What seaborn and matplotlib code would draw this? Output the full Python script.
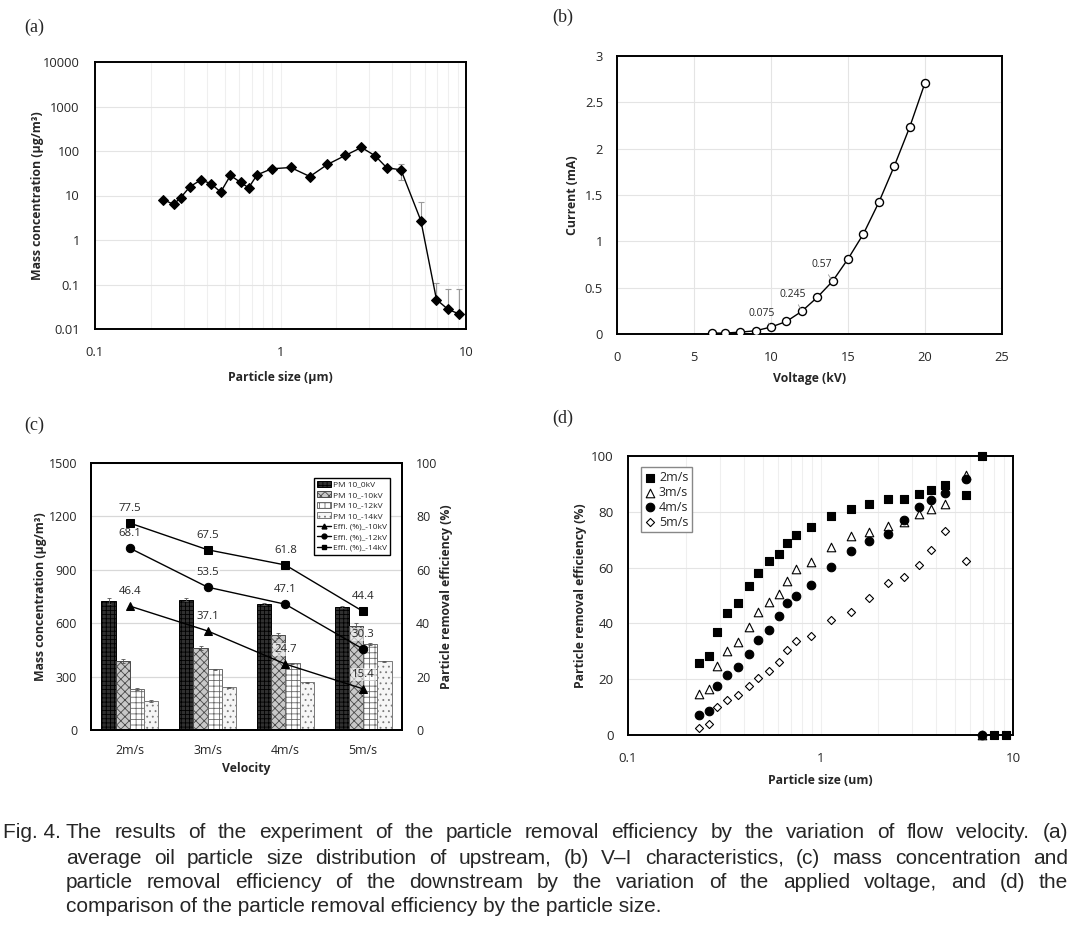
import numpy as np
import pandas as pd
import matplotlib.pyplot as plt
import matplotlib.ticker as mticker
import seaborn as sns

# ---- data (a) : upstream size distribution
sizes = [0.234, 0.265, 0.29, 0.325, 0.373, 0.423, 0.476, 0.537, 0.611, 0.673, 0.748, 0.895,
         1.135, 1.44, 1.79, 2.235, 2.73, 3.24, 3.74, 4.46, 5.71, 6.93, 8.0, 9.2]
mass_conc = [8.1, 6.3, 9.0, 15.8, 22.5, 18.3, 11.9, 28.2, 19.6, 14.9, 29.1, 39.8,
             42.6, 26.7, 49.8, 79.4, 120, 78, 41.9, 37.8, 2.73, 0.046, 0.0276, 0.0217]
err_lo = [0]*19 + [15.4, 0, 0, 0, 0]
err_hi = [0]*19 + [14.2, 4.4, 0.064, 0.05, 0.056]

# ---- data (b) : V-I characteristics
voltage = [6.2, 7, 8, 9, 10, 11, 12, 13, 14, 15, 16, 17, 18, 19, 20]
current = [0.01, 0.01, 0.02, 0.035, 0.075, 0.135, 0.245, 0.395, 0.57, 0.81, 1.08, 1.42, 1.81, 2.23, 2.71]
vi_labels = {10: '0.075', 12: '0.245', 14: '0.57'}

# ---- data (c) : downstream concentration / efficiency
velocities = ['2m/s', '3m/s', '4m/s', '5m/s']
pm_0kv = [724, 733, 707, 692]
pm_10kv = [389, 462, 531, 585]
pm_12kv = [230, 340, 374, 483]
pm_14kv = [163, 239, 267, 385]
pm_err = [[15, 8, 5, 5], [12, 10, 12, 18], [6, 5, 5, 5], [4, 4, 3, 4]]
bar_names = ['PM 10_0kV', 'PM 10_-10kV', 'PM 10_-12kV', 'PM 10_-14kV']
eff_10kv = [46.4, 37.1, 24.7, 15.4]
eff_12kv = [68.1, 53.5, 47.1, 30.3]
eff_14kv = [77.5, 67.5, 61.8, 44.4]
eff_names = ['Effi. (%)_-10kV', 'Effi. (%)_-12kV', 'Effi. (%)_-14kV']

# ---- data (d) : efficiency by particle size
eff_2ms = [25.8, 28.2, 37.0, 43.6, 47.4, 53.5, 58.1, 62.2, 64.8, 68.9, 71.7, 74.6,
           78.5, 81.0, 82.8, 84.6, 84.6, 86.5, 87.7, 89.5, 86.1, 100, 0, 0]
eff_3ms = [14.7, 16.6, 24.7, 30.2, 33.2, 38.7, 44.0, 47.7, 50.7, 55.2, 59.4, 62.1,
           67.3, 71.3, 72.6, 74.9, 76.5, 79.3, 81.1, 82.9, 93.2, 0, np.nan, np.nan]
eff_4ms = [7.2, 8.7, 17.6, 21.5, 24.3, 29.2, 34.1, 37.5, 42.7, 47.2, 49.7, 53.9,
           60.2, 66.0, 69.5, 72.0, 76.9, 81.6, 84.2, 86.6, 91.9, 0, np.nan, np.nan]
eff_5ms = [2.6, 3.9, 9.9, 12.7, 14.2, 17.7, 20.5, 22.8, 26.0, 30.3, 33.8, 35.6,
           41.2, 44.1, 49.1, 54.6, 56.6, 60.9, 66.4, 73.1, 62.5, np.nan, np.nan, np.nan]

caption = [
    "The results of the experiment of the particle removal efficiency by the variation of flow velocity. (a)",
    "average oil particle size distribution of upstream, (b) V\u2013I characteristics, (c) mass concentration and",
    "particle removal efficiency of the downstream by the variation of the applied voltage, and (d) the",
    "comparison of the particle removal efficiency by the particle size.",
]

sns.set_style('white')
plt.rcParams['font.family'] = ['Open Sans', 'DejaVu Sans']
plt.rcParams['hatch.linewidth'] = 0.6

W, H = 1076, 934
fig = plt.figure(figsize=(W / 100, H / 100), dpi=100)

TICK = 9.3
LAB = 8.8
GRID = '#e4e4e4'


def px_axes(l, t, r, b):
    return fig.add_axes([l / W, 1 - b / H, (r - l) / W, (b - t) / H])


def frame(ax):
    for s in ax.spines.values():
        s.set_visible(True)
        s.set_color('black')
        s.set_linewidth(1.4)


log_fmt = mticker.FuncFormatter(lambda v, _: f'{v:g}')

# ---------------- (a)
ax_a = px_axes(95, 62, 466, 329)
mask = (np.array(err_lo) + np.array(err_hi)) > 0
ax_a.errorbar(np.array(sizes)[mask], np.array(mass_conc)[mask],
              yerr=[np.array(err_lo)[mask], np.array(err_hi)[mask]],
              fmt='none', ecolor='#9a9a9a', elinewidth=0.8, capsize=2, capthick=0.8, zorder=2)
sns.lineplot(x=sizes, y=mass_conc, ax=ax_a, color='black', lw=1, marker='D',
             markersize=5, markeredgecolor='black', zorder=3)
ax_a.set_xscale('log')
ax_a.set_yscale('log')
ax_a.set_xlim(0.1, 10)
ax_a.set_ylim(0.01, 10000)
ax_a.xaxis.set_major_formatter(log_fmt)
ax_a.yaxis.set_major_formatter(log_fmt)
ax_a.yaxis.set_major_locator(mticker.LogLocator(base=10, numticks=10))
ax_a.yaxis.set_minor_locator(mticker.LogLocator(base=10, subs=np.arange(2, 10), numticks=10))
ax_a.xaxis.set_minor_formatter(mticker.NullFormatter())
ax_a.yaxis.set_minor_formatter(mticker.NullFormatter())
ax_a.grid(which='major', axis='y', color=GRID, lw=0.8)
ax_a.grid(which='both', axis='x', color='#efefef', lw=0.8)
ax_a.tick_params(which='both', direction='in', labelsize=TICK, color='#777')
ax_a.tick_params(which='major', length=4)
ax_a.tick_params(which='minor', length=3)
ax_a.tick_params(axis='x', pad=12)
ax_a.tick_params(axis='y', pad=11)
ax_a.set_xlabel('Particle size (\u03bcm)', fontsize=LAB, fontweight='bold', labelpad=9)
ax_a.set_ylabel('Mass concentration (\u03bcg/m\u00b3)', fontsize=LAB, fontweight='bold', labelpad=-1)
frame(ax_a)

# ---------------- (b)
ax_b = px_axes(617, 56, 1002, 334)
sns.lineplot(x=voltage, y=current, ax=ax_b, color='black', lw=1, marker='o', markersize=5.8,
             markerfacecolor='white', markeredgecolor='black', markeredgewidth=1, zorder=3)
text_pos = {10: (9.42, 0.226), 12: (11.43, 0.424), 14: (13.3, 0.747)}
for v, lab in vi_labels.items():
    ax_b.annotate(lab, (v, current[voltage.index(v)]), xytext=text_pos[v], textcoords='data',
                  ha='center', va='center', fontsize=7.5,
                  arrowprops=dict(arrowstyle='-', color='#999', lw=0.6, shrinkA=1, shrinkB=2))
ax_b.set_xlim(0, 25)
ax_b.set_ylim(0, 3)
ax_b.set_xticks(range(0, 26, 5))
ax_b.set_yticks(np.arange(0, 3.01, 0.5))
ax_b.yaxis.set_major_formatter(mticker.FuncFormatter(lambda v, _: f'{v:g}'))
ax_b.grid(color=GRID, lw=0.8)
ax_b.tick_params(length=0, labelsize=TICK)
ax_b.tick_params(axis='x', pad=12)
ax_b.tick_params(axis='y', pad=10)
ax_b.set_xlabel('Voltage (kV)', fontsize=LAB, fontweight='bold', labelpad=6)
ax_b.set_ylabel('Current (mA)', fontsize=LAB, fontweight='bold', labelpad=4)
frame(ax_b)

# ---------------- (c)
ax_c = px_axes(91, 463, 402, 730)
df_bar = pd.DataFrame({
    'velocity': velocities * 4,
    'series': sum([[n] * 4 for n in bar_names], []),
    'conc': pm_0kv + pm_10kv + pm_12kv + pm_14kv,
})
bar_faces = ['#303030', '#c8c8c8', '#ffffff', '#f6f6f6']
bar_hatch = ['++++', 'xxxx', '+++', '...']
bar_edges = ['black', '#4a4a4a', '#6a6a6a', '#7a7a7a']
sns.barplot(data=df_bar, x='velocity', y='conc', hue='series', hue_order=bar_names,
            palette=bar_faces, errorbar=None, width=0.73, ax=ax_c, legend=False, saturation=1)
bar_handles = []
for cont, ec, ht, errs in zip(ax_c.containers, bar_edges, bar_hatch, pm_err):
    xs, ys = [], []
    for p in cont.patches:
        p.set_edgecolor(ec)
        p.set_hatch(ht)
        p.set_linewidth(0.7)
        xs.append(p.get_x() + p.get_width() / 2)
        ys.append(p.get_height())
    ax_c.errorbar(xs, ys, yerr=errs, fmt='none', ecolor='#555', elinewidth=0.6, capsize=1.5, capthick=0.6)
    bar_handles.append(cont.patches[0])
ax_c.set_ylim(0, 1500)
ax_c.set_yticks(range(0, 1501, 300))
ax_c.set_xlim(-0.5, 3.5)
ax_c.set_axisbelow(True)
ax_c.grid(axis='y', color='#d8d8d8', lw=0.9)
ax_c.set_xticks([0.5, 1.5, 2.5], minor=True)
ax_c.tick_params(which='major', length=0, labelsize=8.9, pad=10)
ax_c.tick_params(which='minor', direction='in', length=4, color='#777')
ax_c.set_xlabel('Velocity', fontsize=LAB, fontweight='bold', labelpad=4)
ax_c.set_ylabel('Mass concentration (\u03bcg/m\u00b3)', fontsize=LAB, fontweight='bold', labelpad=1.5)

ax_c2 = ax_c.twinx()
pos = np.arange(len(velocities))
line_handles = []
for vals, mk, ms, name in zip([eff_10kv, eff_12kv, eff_14kv], ['^', 'o', 's'], [5.5, 6, 6], eff_names):
    sns.lineplot(x=pos, y=vals, ax=ax_c2, color='black', lw=1, marker=mk, markersize=ms,
                 markeredgecolor='black', zorder=4)
    line_handles.append(plt.Line2D([], [], color='black', lw=1, marker=mk, markersize=3.5))
    for i, v in enumerate(vals):
        ax_c2.annotate(f'{v}', (i, v), xytext=(0, 10.5), textcoords='offset points',
                       ha='center', va='center', fontsize=8.2,
                       bbox=dict(boxstyle='square,pad=0.1', fc='white', ec='none', alpha=0.6))
ax_c2.set_ylim(0, 100)
ax_c2.set_yticks(range(0, 101, 20))
ax_c2.tick_params(length=0, labelsize=8.9, pad=10)
ax_c2.set_ylabel('Particle removal efficiency (%)', fontsize=LAB, fontweight='bold', labelpad=2)
ax_c2.legend(bar_handles + line_handles, bar_names + eff_names, loc='upper right',
             bbox_to_anchor=(0.975, 0.96), fontsize=6, frameon=True, fancybox=False,
             edgecolor='black', framealpha=1, labelspacing=0.32, handlelength=1.7,
             handleheight=0.7, handletextpad=0.2, borderpad=0.35)
frame(ax_c2)
frame(ax_c)

# ---------------- (d)
ax_d = px_axes(628, 456, 1013, 735)
d_specs = [('2m/s', eff_2ms, 's', 'black', 40), ('3m/s', eff_3ms, '^', 'white', 38),
           ('4m/s', eff_4ms, 'o', 'black', 38), ('5m/s', eff_5ms, 'D', 'white', 17)]
for name, vals, mk, fc, sz in d_specs:
    sns.scatterplot(x=sizes, y=vals, ax=ax_d, marker=mk, s=sz, color=fc, edgecolor='black',
                    linewidth=0.8, label=name, clip_on=False, zorder=3)
ax_d.set_xscale('log')
ax_d.set_xlim(0.1, 10)
ax_d.set_ylim(0, 100)
ax_d.set_yticks(range(0, 101, 20))
ax_d.xaxis.set_major_formatter(log_fmt)
ax_d.xaxis.set_minor_formatter(mticker.NullFormatter())
ax_d.grid(which='major', axis='y', color=GRID, lw=0.8)
ax_d.grid(which='both', axis='x', color='#efefef', lw=0.8)
ax_d.tick_params(which='both', direction='in', labelsize=TICK + 0.3, color='#777')
ax_d.tick_params(axis='y', length=0, pad=10.5)
ax_d.tick_params(axis='x', which='major', length=4, pad=12.5)
ax_d.tick_params(axis='x', which='minor', length=3)
ax_d.set_xlabel('Particle size (um)', fontsize=LAB, fontweight='bold', labelpad=6)
ax_d.set_ylabel('Particle removal efficiency (%)', fontsize=LAB, fontweight='bold', labelpad=3)
ax_d.legend(loc='upper left', bbox_to_anchor=(0.035, 0.96), fontsize=9, frameon=True,
            fancybox=False, edgecolor='#888', framealpha=1, labelspacing=0.15,
            handlelength=0.8, handletextpad=0.3, borderpad=0.3, borderaxespad=0)
frame(ax_d)

# ---------------- panel letters
for lab, x, y in [('(a)', 24, 27), ('(b)', 552, 17), ('(c)', 24, 425), ('(d)', 552, 418)]:
    fig.text(x / W, 1 - y / H, lab, family=['Liberation Serif', 'DejaVu Serif'], fontsize=13,
             va='center', ha='left')

# ---------------- caption, justified like the journal layout
renderer = fig.canvas.get_renderer()
CAP_FAMILY = ['Liberation Sans', 'DejaVu Sans']


def word_widths(words, size):
    objs = [fig.text(0, 0, w, family=CAP_FAMILY, fontsize=size) for w in words]
    widths = [o.get_window_extent(renderer).width for o in objs]
    for o in objs:
        o.remove()
    return widths


# size the face so the words fill about 83% of a justified line, like the reference
probe = sum(word_widths(caption[0].split(), 12.5))
cap_size = float(np.clip(12.5 * 0.83 * (1068 - 44) / probe, 11.5, 15))
cap_kw = dict(va='center', family=CAP_FAMILY, fontsize=cap_size)


def justify(line, x0, x1, y):
    words = line.split()
    objs = [fig.text(0, 1 - y / H, w, **cap_kw) for w in words]
    widths = [o.get_window_extent(renderer).width for o in objs]
    gap = (x1 - x0 - sum(widths)) / (len(words) - 1)
    x = x0
    for o, w in zip(objs, widths):
        o.set_x(x / W)
        x += w + gap


fig_lab = fig.text(3 / W, 1 - 833 / H, 'Fig. 4.', **cap_kw)
lab_end = 3 + fig_lab.get_window_extent(renderer).width
indent = max(44, lab_end + 5)
justify(caption[0], indent, 1068, 833)
justify(caption[1], indent, 1068, 858)
justify(caption[2], indent, 1068, 883)
fig.text(indent / W, 1 - 907 / H, caption[3], **cap_kw)

fig.savefig('out.png', dpi=100)
